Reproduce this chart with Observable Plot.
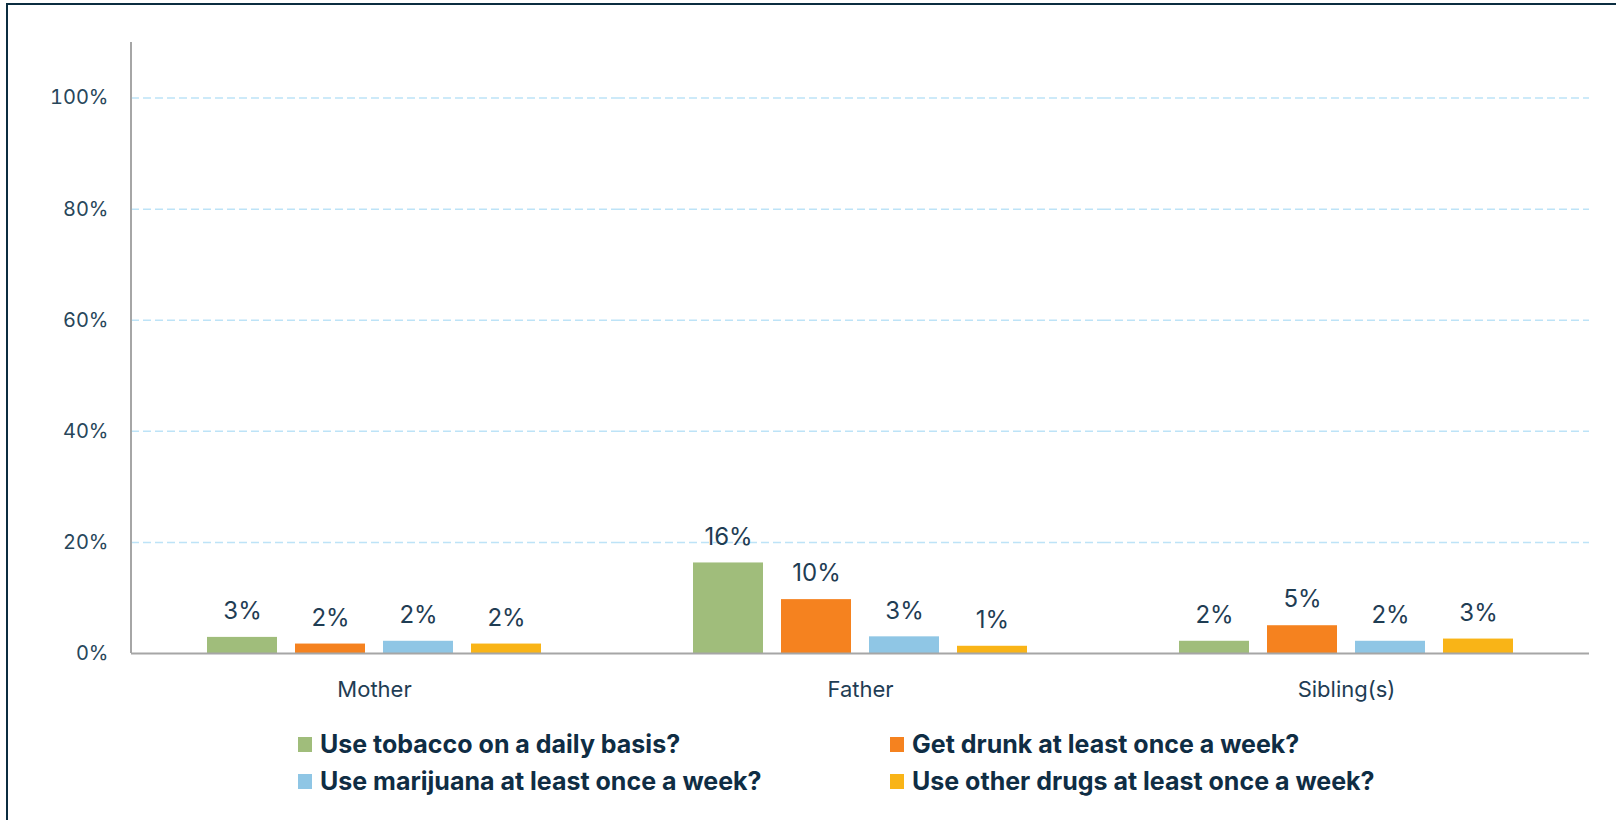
<!DOCTYPE html>
<html><head><meta charset="utf-8">
<script src="https://cdn.jsdelivr.net/npm/d3@7"></script>
<script src="https://cdn.jsdelivr.net/npm/@observablehq/plot@0.6"></script>
<style>
body{margin:0;background:#fff;}
#wrap{position:relative;width:1616px;height:820px;overflow:hidden;font-family:Inter,"Open Sans",sans-serif;background:#fff;}
#frameL{position:absolute;left:6px;top:3px;width:2px;height:817px;background:#0b2d40;}
#frameT{position:absolute;left:6px;top:3px;width:1610px;height:2px;background:#0b2d40;}
#chart{position:absolute;left:0;top:0;}
.item{position:absolute;display:flex;align-items:center;height:30px;font-weight:700;font-size:25px;color:#0f2d44;white-space:nowrap;letter-spacing:0;}
.sw{width:14px;height:15px;margin-right:8px;flex:none;}
</style></head>
<body>
<div id="wrap"><div id="frameL"></div><div id="frameT"></div><div id="chart"></div><div id="legend"></div></div>
<script>
const groups = ["Mother", "Father", "Sibling(s)"];
const series = ["Use tobacco on a daily basis?", "Get drunk at least once a week?", "Use marijuana at least once a week?", "Use other drugs at least once a week?"];
const colors = ["#a0bd7b", "#f5821f", "#8fc6e5", "#f9b417"];
const mother = [0.029, 0.017, 0.022, 0.017];
const father = [0.163, 0.097, 0.030, 0.013];
const siblings = [0.022, 0.050, 0.022, 0.026];
const yTicks = [0, 0.2, 0.4, 0.6, 0.8, 1.0];

const valuesByGroup = [mother, father, siblings];
const data = [];
groups.forEach((g, gi) => series.forEach((s, si) => data.push({group: g, series: s, value: valuesByGroup[gi][si]})));
const fmt = d3.format(".0%");
const textColor = "#1f3d54";
const marginLeft = 131;

const chart = Plot.plot({
  width: 1616, height: 710,
  marginLeft, marginRight: 27, marginTop: 42, marginBottom: 57,
  style: {fontFamily: 'Inter, "Open Sans", sans-serif', color: textColor, background: "transparent"},
  fx: {domain: groups, padding: 0, label: null},
  x: {domain: series, paddingInner: 0.2, paddingOuter: 0.85, axis: null},
  y: {domain: [0, 1.1], axis: null},
  color: {domain: series, range: colors},
  marks: [
    Plot.ruleY(yTicks.slice(1), {stroke: "#bde3f7", strokeWidth: 1.5, strokeDasharray: "8,4"}),
    Plot.barY(data, {fx: "group", x: "series", y: "value", fill: "series"}),
    Plot.text(data, {fx: "group", x: "series", y: "value", text: d => fmt(d.value), dy: -26, fontSize: 24, fill: textColor}),
    Plot.ruleY([0], {stroke: "#a6a6a6", strokeWidth: 2}),
    Plot.axisY({ticks: yTicks, tickFormat: fmt, tickSize: 0, tickPadding: 23, fontSize: 20, label: null, fill: "#27465a"}),
    Plot.axisFx({anchor: "bottom", tickSize: 0, tickPadding: 28, fontSize: 22, label: null, fill: textColor})
  ]
});
document.getElementById("chart").appendChild(chart);

// y-axis line along the left edge of the plot area
const yr = chart.scale("y").range;
d3.select(chart).append("line")
  .attr("x1", marginLeft).attr("x2", marginLeft)
  .attr("y1", yr[0]).attr("y2", yr[1])
  .attr("stroke", "#a6a6a6").attr("stroke-width", 2);

// legend
const legend = d3.select("#legend");
series.forEach((s, i) => {
  const col = i % 2, row = Math.floor(i / 2);
  const item = legend.append("div").attr("class", "item")
    .style("left", (298 + col * 592) + "px").style("top", (729 + row * 37) + "px");
  item.append("div").attr("class", "sw").style("background", colors[i]);
  item.append("span").text(s);
});
</script>
</body></html>
